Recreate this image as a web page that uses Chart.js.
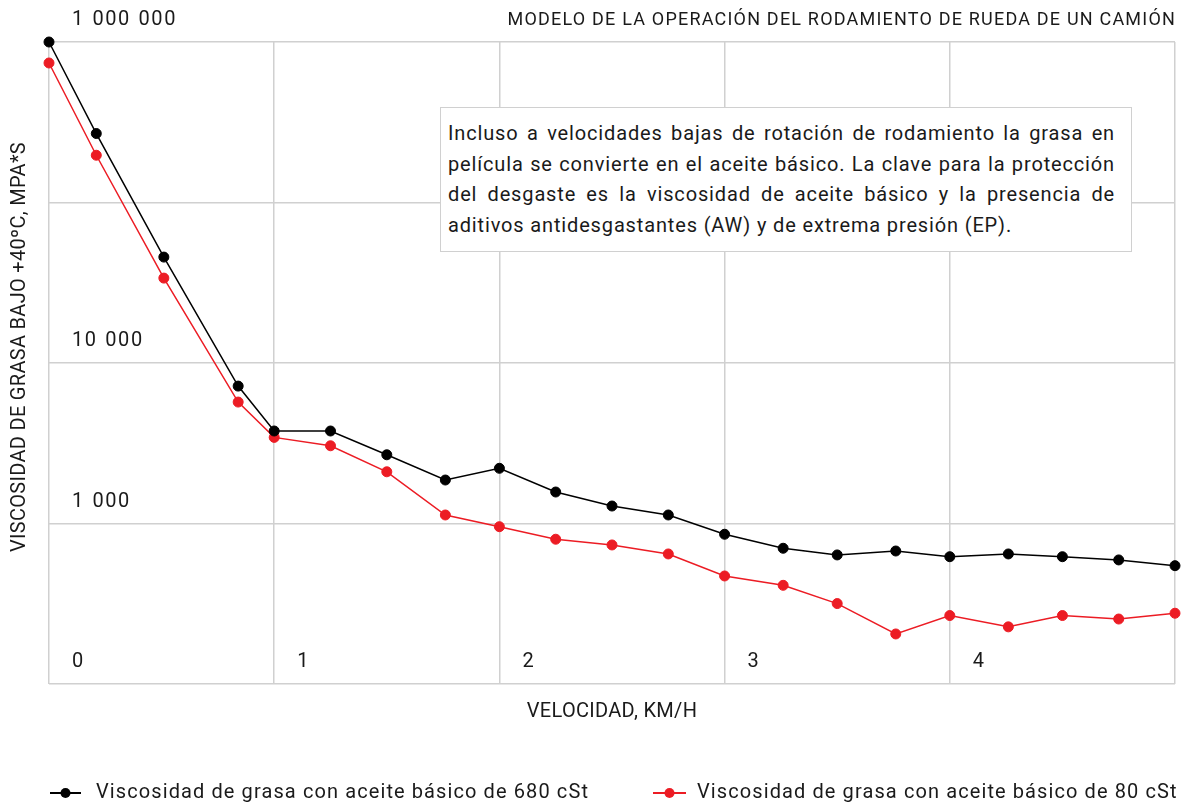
<!DOCTYPE html>
<html>
<head>
<meta charset="utf-8">
<script src="https://cdn.jsdelivr.net/npm/chart.js@4"></script>
<style>
html,body{margin:0;padding:0;background:#fff;}
#wrap{position:relative;width:1190px;height:809px;}
canvas{display:block;}
#note{position:absolute;left:440px;top:107px;width:692px;height:145px;box-sizing:border-box;border:1.5px solid #d0d0d0;background:#fff;padding:10px 16px 0 7px;font-family:Roboto,sans-serif;font-size:20px;letter-spacing:0.85px;line-height:30.7px;color:#1a1a1a;}
#note div{white-space:nowrap;text-align:justify;text-align-last:justify;}
#note div.last{text-align:left;text-align-last:left;}
</style>
</head>
<body>
<div id="wrap">
<canvas id="c" width="1190" height="809"></canvas>
<div id="note">
<div>Incluso a velocidades bajas de rotación de rodamiento la grasa en</div>
<div>película se convierte en el aceite básico. La clave para la protección</div>
<div>del desgaste es la viscosidad de aceite básico y la presencia de</div>
<div class="last">aditivos antidesgastantes (AW) y de extrema presión (EP).</div>
</div>
</div>
<script>
const speeds = [0, 0.21, 0.51, 0.84, 1, 1.25, 1.5, 1.76, 2, 2.25, 2.5, 2.75, 3, 3.26, 3.5, 3.76, 4, 4.26, 4.5, 4.75, 5];
const visc680 = [1000000, 269000, 45700, 7180, 3770, 3770, 2680, 1866, 2208, 1571, 1285, 1130, 857, 701, 637, 674, 621, 646, 621, 593, 546];
const visc80 = [740000, 197000, 33800, 5710, 3440, 3050, 2100, 1130, 955, 798, 735, 646, 471, 412, 317, 205, 267, 227, 267, 254, 276];
const seriesNames = ['Viscosidad de grasa con aceite básico de 680 cSt', 'Viscosidad de grasa con aceite básico de 80 cSt'];
const xTickValues = [0, 1, 2, 3, 4, 5];
const xTickLabels = ['0', '1', '2', '3', '4', ''];
const yTickValues = [100, 1000, 10000, 100000, 1000000];
const yTickLabels = ['', '1 000', '10 000', '', '1 000 000'];
const chartTitle = 'MODELO DE LA OPERACIÓN DEL RODAMIENTO DE RUEDA DE UN CAMIÓN';
const xTitle = 'VELOCIDAD, KM/H';
const yTitle = 'VISCOSIDAD DE GRASA BAJO +40ºC, MPA*S';

const FONT = 'Roboto, sans-serif';
const TXT = '#1a1a1a';
const GRID = '#d0d0d0';

const textPlugin = {
  id: 'textPlugin',
  beforeDatasetsDraw(chart) {
    const ctx = chart.ctx, ca = chart.chartArea;
    const xs = chart.scales.x, ys = chart.scales.y;
    ctx.save();
    ctx.fillStyle = TXT;
    ctx.font = '20px ' + FONT;
    ctx.letterSpacing = '1.6px';
    ctx.wordSpacing = '1px';
    ctx.textAlign = 'left';
    ctx.textBaseline = 'middle';
    yTickValues.forEach((v, i) => {
      if (yTickLabels[i]) ctx.fillText(yTickLabels[i], ca.left + 23, ys.getPixelForValue(v) - 22);
    });
    xTickValues.forEach((v, i) => {
      if (xTickLabels[i]) ctx.fillText(xTickLabels[i], xs.getPixelForValue(v) + 23, ca.bottom - 22);
    });
    ctx.restore();
  },
  afterDraw(chart) {
    const ctx = chart.ctx, ca = chart.chartArea;
    ctx.save();
    ctx.fillStyle = TXT;
    ctx.textBaseline = 'middle';
    ctx.font = '18px ' + FONT;
    ctx.letterSpacing = '1.2px';
    ctx.textAlign = 'right';
    ctx.fillText(chartTitle, ca.right + 1, 20);
    ctx.textAlign = 'center';
    ctx.font = '20px ' + FONT;
    ctx.letterSpacing = '0.3px';
    ctx.fillText(xTitle, (ca.left + ca.right) / 2, 712);
    ctx.save();
    ctx.translate(20, 347);
    ctx.rotate(-Math.PI / 2);
    ctx.fillText(yTitle, 0, 0);
    ctx.restore();
    // legend
    const items = [{x0: 50, w: 31, text: 96}, {x0: 653, w: 33, text: 697}];
    ctx.font = '20px ' + FONT;
    ctx.letterSpacing = '1.1px';
    ctx.textAlign = 'left';
    ctx.textBaseline = 'alphabetic';
    chart.data.datasets.forEach((ds, i) => {
      const it = items[i];
      const y = 793;
      ctx.strokeStyle = ds.borderColor;
      ctx.lineWidth = 2;
      ctx.beginPath();
      ctx.moveTo(it.x0, y);
      ctx.lineTo(it.x0 + it.w, y);
      ctx.stroke();
      ctx.fillStyle = ds.backgroundColor;
      ctx.beginPath();
      ctx.arc(it.x0 + it.w / 2, y, 5, 0, Math.PI * 2);
      ctx.fill();
      ctx.fillStyle = TXT;
      ctx.fillText(ds.label, it.text, 798);
    });
    ctx.restore();
  }
};

new Chart(document.getElementById('c'), {
  type: 'line',
  data: {
    datasets: [
      {label: seriesNames[0], data: speeds.map((s, i) => ({x: s, y: visc680[i]})), borderColor: '#000000', backgroundColor: '#000000', borderWidth: 1.5, pointRadius: 5, pointBorderWidth: 1, clip: false, tension: 0},
      {label: seriesNames[1], data: speeds.map((s, i) => ({x: s, y: visc80[i]})), borderColor: '#ec1c24', backgroundColor: '#ec1c24', borderWidth: 1.5, pointRadius: 5, pointBorderWidth: 1, clip: false, tension: 0}
    ]
  },
  options: {
    responsive: false,
    animation: false,
    devicePixelRatio: 1,
    layout: {padding: {left: 49, right: 15, top: 42, bottom: 125}},
    plugins: {legend: {display: false}, tooltip: {enabled: false}},
    scales: {
      x: {type: 'linear', min: 0, max: 5,
          afterBuildTicks: s => { s.ticks = xTickValues.map(v => ({value: v})); },
          ticks: {display: false},
          grid: {color: GRID, lineWidth: 1.5, drawTicks: false},
          border: {display: false}},
      y: {type: 'logarithmic', min: 100, max: 1000000,
          afterBuildTicks: s => { s.ticks = yTickValues.map(v => ({value: v})); },
          ticks: {display: false},
          grid: {color: GRID, lineWidth: 1.5, drawTicks: false},
          border: {display: false}}
    }
  },
  plugins: [textPlugin]
});
</script>
</body>
</html>
